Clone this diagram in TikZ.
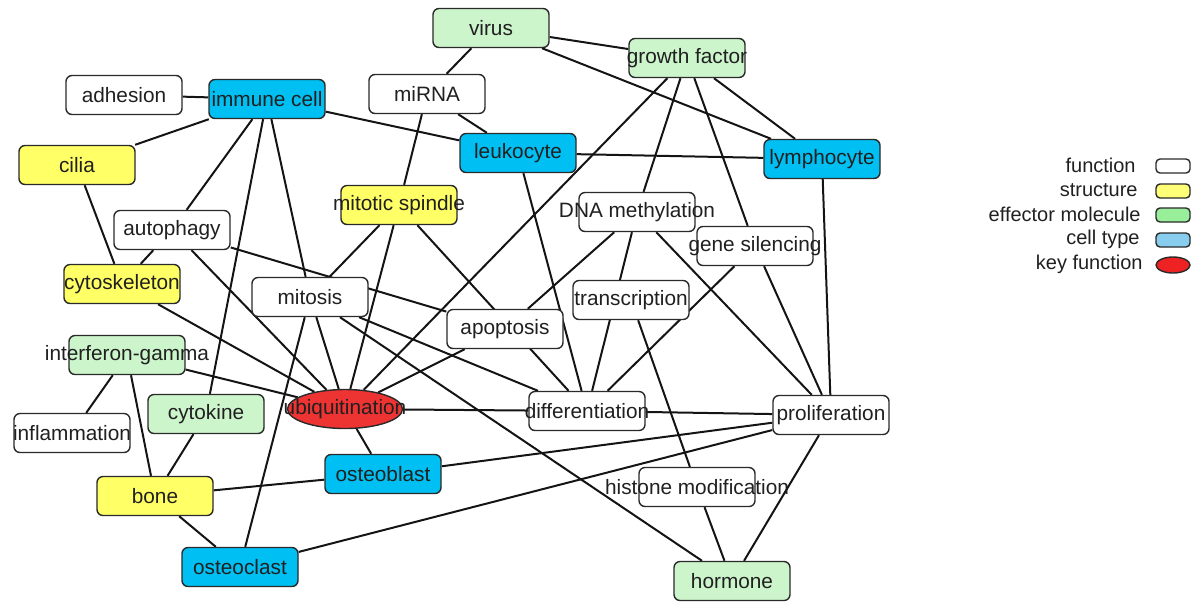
\documentclass[tikz,border=0pt]{standalone}
\usepackage{fontspec}
\setmainfont{Liberation Sans}
\usetikzlibrary{shapes.geometric,backgrounds}
\definecolor{cellc}{HTML}{00BFF3}
\definecolor{structc}{HTML}{FFFF66}
\definecolor{effc}{HTML}{CCF5CC}
\definecolor{keyc}{HTML}{EE3333}
\definecolor{bordc}{HTML}{2A2A2A}
\definecolor{edgec}{HTML}{141414}
\definecolor{txtc}{HTML}{202020}
\definecolor{legstruct}{HTML}{FFFF77}
\definecolor{legeff}{HTML}{99EE99}
\definecolor{legcell}{HTML}{88CCEE}
\definecolor{legkey}{HTML}{EE2222}
\begin{document}
\begin{tikzpicture}[x=0.5pt,y=-0.5pt,
  nbox/.style={draw=bordc, line width=0.7pt, rounded corners=3pt, minimum width=58pt, minimum height=19.5pt, inner sep=0pt, font=\fontsize{10.4}{12}\selectfont, text=txtc},
  fnbox/.style={nbox, fill=white},
  stbox/.style={nbox, fill=structc},
  efbox/.style={nbox, fill=effc},
  ctbox/.style={nbox, fill=cellc},
  keybox/.style={nbox, sharp corners, ellipse, fill=keyc, minimum width=57.5pt},
  link/.style={draw=edgec, line width=1pt},
  legtext/.style={anchor=east, inner sep=0pt, font=\fontsize{10}{12}\selectfont, text=txtc},
  legbox/.style={draw=bordc, line width=0.7pt, rounded corners=2pt, minimum width=17pt, minimum height=7pt, inner sep=0pt},
  legell/.style={draw=bordc, line width=0.7pt, ellipse, minimum width=17pt, minimum height=8pt, inner sep=0pt, fill=legkey}]
\useasboundingbox (0,0) rectangle (1202,601);

% nodes
\node[fnbox] (adhesion) at (124,95) {\makebox[0pt]{adhesion}};
\node[ctbox] (immune) at (267,99) {\makebox[0pt]{immune cell}};
\node[stbox] (cilia) at (77,165) {\makebox[0pt]{cilia}};
\node[fnbox] (autophagy) at (172,230) {\makebox[0pt]{autophagy}};
\node[stbox] (cytoskeleton) at (122,284) {\makebox[0pt]{cytoskeleton}};
\node[fnbox] (mitosis) at (310,297) {\makebox[0pt]{mitosis}};
\node[stbox] (spindle) at (399,205) {\makebox[0pt]{mitotic spindle}};
\node[fnbox] (mirna) at (427,94) {\makebox[0pt]{miRNA}};
\node[efbox] (virus) at (491,28) {\makebox[0pt]{virus}};
\node[efbox] (growth) at (687,58) {\makebox[0pt]{growth factor}};
\node[ctbox] (leukocyte) at (518,153) {\makebox[0pt]{leukocyte}};
\node[ctbox] (lymphocyte) at (822,159) {\makebox[0pt]{lymphocyte}};
\node[fnbox] (dna) at (637,212) {\makebox[0pt]{DNA methylation}};
\node[fnbox] (gene) at (755,246) {\makebox[0pt]{gene silencing}};
\node[fnbox] (transcription) at (631,300) {\makebox[0pt]{transcription}};
\node[fnbox] (apoptosis) at (505,329) {\makebox[0pt]{apoptosis}};
\node[fnbox] (diff) at (587,411) {\makebox[0pt]{differentiation}};
\node[fnbox] (prolif) at (831,415) {\makebox[0pt]{proliferation}};
\node[efbox] (ifn) at (127,355) {\makebox[0pt]{interferon-gamma}};
\node[fnbox] (inflammation) at (72,433) {\makebox[0pt]{inflammation}};
\node[efbox] (cytokine) at (206,414) {\makebox[0pt]{cytokine}};
\node[keybox] (ubiq) at (345,409) {\makebox[0pt]{ubiquitination}};
\node[ctbox] (osteoblast) at (383,474) {\makebox[0pt]{osteoblast}};
\node[stbox] (bone) at (155,496) {\makebox[0pt]{bone}};
\node[ctbox] (osteoclast) at (240,567) {\makebox[0pt]{osteoclast}};
\node[fnbox] (histone) at (697,487) {\makebox[0pt]{histone modification}};
\node[efbox] (hormone) at (732,581) {\makebox[0pt]{hormone}};

% edges
\begin{scope}[on background layer]
\draw[link] (adhesion) -- (immune);
\draw[link] (immune) -- (cilia);
\draw[link] (immune) -- (autophagy);
\draw[link] (immune) -- (cytokine);
\draw[link] (immune) -- (mitosis);
\draw[link] (immune) -- (leukocyte);
\draw[link] (cilia) -- (cytoskeleton);
\draw[link] (autophagy) -- (cytoskeleton);
\draw[link] (autophagy) -- (ubiq);
\draw[link] (autophagy) -- (apoptosis);
\draw[link] (cytoskeleton) -- (ubiq);
\draw[link] (ifn) -- (ubiq);
\draw[link] (ifn) -- (inflammation);
\draw[link] (ifn) -- (bone);
\draw[link] (cytokine) -- (bone);
\draw[link] (bone) -- (osteoblast);
\draw[link] (bone) -- (osteoclast);
\draw[link] (ubiq) -- (osteoblast);
\draw[link] (osteoclast) -- (mitosis);
\draw[link] (osteoclast) -- (prolif);
\draw[link] (osteoblast) -- (prolif);
\draw[link] (ubiq) -- (diff);
\draw[link] (diff) -- (prolif);
\draw[link] (mitosis) -- (spindle);
\draw[link] (mitosis) -- (ubiq);
\draw[link] (mitosis) -- (hormone);
\draw[link] (mitosis) -- (diff);
\draw[link] (apoptosis) -- (ubiq);
\draw[link] (leukocyte) -- (diff);
\draw[link] (gene) -- (diff);
\draw[link] (transcription) -- (histone);
\draw[link] (dna) -- (diff);
\draw[link] (dna) -- (apoptosis);
\draw[link] (dna) -- (prolif);
\draw[link] (gene) -- (prolif);
\draw[link] (lymphocyte) -- (prolif);
\draw[link] (growth) -- (gene);
\draw[link] (growth) -- (dna);
\draw[link] (growth) -- (ubiq);
\draw[link] (growth) -- (lymphocyte);
\draw[link] (virus) -- (growth);
\draw[link] (virus) -- (lymphocyte);
\draw[link] (virus) -- (mirna);
\draw[link] (mirna) -- (leukocyte);
\draw[link] (mirna) -- (spindle);
\draw[link] (leukocyte) -- (lymphocyte);
\draw[link] (spindle) -- (ubiq);
\draw[link] (spindle) -- (diff);
\draw[link] (histone) -- (hormone);
\draw[link] (prolif) -- (hormone);
\end{scope}

% legend
\node[legtext] (lt1) at (1136,165) {function};
\node[legtext] (lt2) at (1138,190) {structure};
\node[legtext] (lt3) at (1141,214) {effector molecule};
\node[legtext] (lt4) at (1140,239) {cell type};
\node[legtext] (lt5) at (1143,264) {key function};
\node[legbox, fill=white] (lb1) at (1173,166) {};
\node[legbox, fill=legstruct] (lb2) at (1173,191) {};
\node[legbox, fill=legeff] (lb3) at (1173,215) {};
\node[legbox, fill=legcell] (lb4) at (1173,240) {};
\node[legell] (lb5) at (1173,265) {};
\end{tikzpicture}
\end{document}
